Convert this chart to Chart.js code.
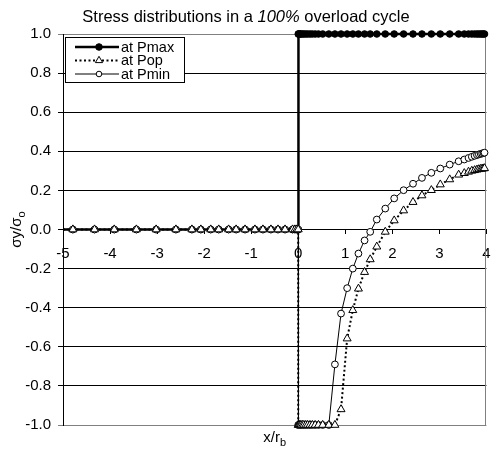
<!DOCTYPE html>
<html>
<head>
<meta charset="utf-8">
<script src="https://cdn.jsdelivr.net/npm/chart.js@4.4.0/dist/chart.umd.min.js"></script>
<style>
  html, body { margin: 0; padding: 0; background: #fff; }
</style>
</head>
<body>
<canvas id="stressChart" width="492" height="452"></canvas>
<script>
// ---- data ----
// node positions x/rb behind the 0 line and ahead of it
const xBehind = [-5, -4.79, -4.33, -3.91, -3.44, -3.02, -2.6, -2.26, -2.07, -1.86, -1.69, -1.48,
                 -1.32, -1.13, -0.92, -0.75, -0.58, -0.43, -0.28, -0.12, -0.07, -0.03, 0];
const xAhead  = [0, 0.01, 0.02, 0.04, 0.06, 0.09, 0.12, 0.16, 0.2, 0.25, 0.3, 0.36, 0.43, 0.52,
                 0.65, 0.78, 0.91, 1.04, 1.16, 1.28, 1.41, 1.53, 1.67, 1.85, 2.04, 2.24, 2.44, 2.63,
                 2.83, 3.02, 3.22, 3.41, 3.53, 3.62, 3.69, 3.75, 3.8, 3.84, 3.88, 3.91, 3.94, 3.96];

const pmaxBehind = [0, 0, 0, 0, 0, 0, 0, 0, 0, 0, 0, 0, 0, 0, 0, 0, 0, 0, 0, 0, 0, 0, 0];
const pmaxAhead  = [1, 1, 1, 1, 1, 1, 1, 1, 1, 1, 1, 1, 1, 1, 1, 1, 1, 1, 1, 1, 1, 1, 1, 1, 1, 1,
                    1, 1, 1, 1, 1, 1, 1, 1, 1, 1, 1, 1, 1, 1, 1, 1];

const popBehind = [0, 0, 0, 0, 0, 0, 0, 0, 0, 0, 0, 0, 0, 0, 0, 0, 0, 0, 0, 0, 0, 0, 0];
const popAhead  = [-1, -1, -1, -1, -1, -1, -1, -1, -1, -1, -1, -1, -1, -1, -1, -1,
                   -0.92, -0.558, -0.413, -0.303, -0.218, -0.153, -0.088, -0.012, 0.046, 0.097,
                   0.14, 0.174, 0.201, 0.23, 0.256, 0.28, 0.288, 0.295, 0.3, 0.303, 0.306, 0.308,
                   0.31, 0.311, 0.312, 0.313];

const pminBehind = [0, 0, 0, 0, 0, 0, 0, 0, 0, 0, 0, 0, 0, 0, 0, 0, 0, 0, 0, 0, 0, 0, 0];
const pminAhead  = [-1, -1, -1, -1, -1, -1, -1, -1, -1, -1, -1, -1, -1, -1, -1,
                    -0.69, -0.43, -0.30, -0.20, -0.123, -0.056, -0.012, 0.051, 0.107, 0.159, 0.201,
                    0.234, 0.264, 0.29, 0.312, 0.332, 0.349, 0.358, 0.366, 0.372, 0.377, 0.381,
                    0.384, 0.387, 0.389, 0.391, 0.393];

const seriesNames = ['at Pmax', 'at Pop', 'at Pmin'];
const xTickLabels = ['-5', '-4', '-3', '-2', '-1', '0', '1', '2', '3', '4'];
const yTickLabels = ['-1.0', '-0.8', '-0.6', '-0.4', '-0.2', '0.0', '0.2', '0.4', '0.6', '0.8', '1.0'];

const FONT = '"Liberation Sans", Arial, sans-serif';

function toPoints(xs, ys) {
  return xs.map((x, i) => ({ x: x, y: ys[i] }));
}

// first node sits on the axis, no marker there
const hideFirst = r => ctx => (ctx.dataIndex === 0 ? 0 : r);

// plot frame on the right (grey like the original)
const framePlugin = {
  id: 'frame',
  beforeDatasetsDraw(chart) {
    const { ctx, chartArea } = chart;
    ctx.save();
    ctx.strokeStyle = '#808080';
    ctx.lineWidth = 1;
    ctx.beginPath();
    const xr = Math.round(chartArea.right) - 0.5;
    ctx.moveTo(xr, chartArea.top);
    ctx.lineTo(xr, chartArea.bottom);
    ctx.stroke();
    ctx.restore();
  }
};

// title + axis titles (mixed italic / subscripts)
const textPlugin = {
  id: 'texts',
  afterDraw(chart) {
    const ctx = chart.ctx;
    const area = chart.chartArea;
    ctx.save();
    ctx.fillStyle = '#000';
    ctx.textBaseline = 'alphabetic';
    ctx.textAlign = 'left';

    // title
    const parts = [
      ['Stress distributions in a ', '16.5px ' + FONT],
      ['100%', 'italic 16.5px ' + FONT],
      [' overload cycle', '16.5px ' + FONT]
    ];
    let total = 0;
    parts.forEach(p => { ctx.font = p[1]; total += ctx.measureText(p[0]).width; });
    let x = chart.width / 2 - total / 2;
    parts.forEach(p => {
      ctx.font = p[1];
      ctx.fillText(p[0], x, 21.5);
      x += ctx.measureText(p[0]).width;
    });

    // x axis title  x/r_b
    ctx.font = '15px ' + FONT;
    const main = 'x/r';
    const wMain = ctx.measureText(main).width;
    ctx.font = '11px ' + FONT;
    const wSub = ctx.measureText('b').width;
    let xx = (area.left + area.right) / 2 - (wMain + wSub) / 2;
    ctx.font = '15px ' + FONT;
    ctx.fillText(main, xx, 442);
    ctx.font = '11px ' + FONT;
    ctx.fillText('b', xx + wMain, 446);

    // y axis title  σy/σ_o
    ctx.translate(21, (area.top + area.bottom) / 2);
    ctx.rotate(-Math.PI / 2);
    ctx.font = '15px ' + FONT;
    const yMain = 'σy/σ';
    const wy = ctx.measureText(yMain).width;
    ctx.font = '11px ' + FONT;
    const wo = ctx.measureText('o').width;
    const x0 = -(wy + wo) / 2;
    ctx.font = '15px ' + FONT;
    ctx.fillText(yMain, x0, 0);
    ctx.font = '11px ' + FONT;
    ctx.fillText('o', x0 + wy, 4);
    ctx.restore();
  }
};

// boxed legend in the upper left corner of the plot
const legendPlugin = {
  id: 'boxLegend',
  afterDraw(chart) {
    const ctx = chart.ctx;
    ctx.save();
    ctx.fillStyle = '#fff';
    ctx.fillRect(65.5, 37.5, 119, 45);
    ctx.strokeStyle = '#000';
    ctx.lineWidth = 1;
    ctx.strokeRect(65.5, 37.5, 119, 45);

    const rows = [47, 60.5, 74];
    chart.data.datasets.forEach((ds, i) => {
      const y = rows[i];
      ctx.save();
      ctx.strokeStyle = ds.borderColor;
      ctx.lineWidth = ds.borderWidth;
      ctx.setLineDash(ds.borderDash || []);
      ctx.beginPath();
      ctx.moveTo(75, y);
      ctx.lineTo(119, y);
      ctx.stroke();
      ctx.restore();

      ctx.save();
      ctx.fillStyle = ds.pointBackgroundColor;
      ctx.strokeStyle = ds.pointBorderColor;
      ctx.lineWidth = 1;
      ctx.beginPath();
      const r = ds.legendRadius;
      if (ds.pointStyle === 'triangle') {
        ctx.moveTo(99, y - r);
        ctx.lineTo(99 + r * 0.866, y + r / 2);
        ctx.lineTo(99 - r * 0.866, y + r / 2);
        ctx.closePath();
      } else {
        ctx.arc(99, y, r, 0, Math.PI * 2);
      }
      ctx.fill();
      ctx.stroke();
      ctx.restore();

      ctx.fillStyle = '#000';
      ctx.font = '14.5px ' + FONT;
      ctx.textBaseline = 'middle';
      ctx.textAlign = 'left';
      ctx.fillText(ds.label, 121, y + 0.5);
    });
    ctx.restore();
  }
};

const chart = new Chart(document.getElementById('stressChart'), {
  type: 'scatter',
  data: {
    datasets: [
      {
        label: seriesNames[0],
        data: toPoints(xBehind.concat(xAhead), pmaxBehind.concat(pmaxAhead)),
        showLine: true,
        borderColor: '#000',
        borderWidth: 2.5,
        pointStyle: 'circle',
        pointRadius: hideFirst(3.3),
        legendRadius: 3.3,
        pointBackgroundColor: '#000',
        pointBorderColor: '#000',
        pointBorderWidth: 1,
        order: 2
      },
      {
        label: seriesNames[1],
        data: toPoints(xBehind.concat(xAhead), popBehind.concat(popAhead)),
        showLine: true,
        borderColor: '#000',
        borderWidth: 2,
        borderDash: [2, 2.5],
        pointStyle: 'triangle',
        pointRadius: hideFirst(4.6),
        legendRadius: 4.2,
        pointBackgroundColor: '#fff',
        pointBorderColor: '#000',
        pointBorderWidth: 1,
        order: 0
      },
      {
        label: seriesNames[2],
        data: toPoints(xBehind.concat(xAhead), pminBehind.concat(pminAhead)),
        showLine: true,
        borderColor: '#000',
        borderWidth: 1,
        pointStyle: 'circle',
        pointRadius: hideFirst(3.4),
        legendRadius: 2.8,
        pointBackgroundColor: '#fff',
        pointBorderColor: '#000',
        pointBorderWidth: 1,
        order: 1
      }
    ]
  },
  options: {
    responsive: false,
    animation: false,
    events: [],
    layout: { padding: { left: 0, right: 1.5, top: 34, bottom: 27 } },
    elements: { line: { tension: 0 } },
    plugins: {
      legend: { display: false },
      title: { display: false },
      tooltip: { enabled: false }
    },
    datasets: { scatter: { clip: false } },
    scales: {
      x: {
        type: 'linear',
        min: -5,
        max: 4,
        position: { y: 0 },
        ticks: {
          stepSize: 1,
          autoSkip: false,
          maxRotation: 0,
          padding: 11,
          color: '#000',
          font: { family: FONT, size: 15 },
          callback: (v, i) => xTickLabels[i]
        },
        grid: { drawOnChartArea: false, drawTicks: true, tickLength: 4, color: '#000' },
        border: { display: true, color: '#000', width: 1 },
        afterFit: s => { s.paddingLeft = 0; s.paddingRight = 0; }
      },
      y: {
        type: 'linear',
        min: -1,
        max: 1,
        position: 'left',
        ticks: {
          stepSize: 0.2,
          padding: 7,
          color: '#000',
          font: { family: FONT, size: 15 },
          callback: (v, i) => yTickLabels[i]
        },
        grid: {
          tickLength: 5,
          color: c => (Math.abs(Math.abs(c.tick.value) - 1) < 1e-6 ? '#808080' : '#000')
        },
        border: { color: '#000', width: 1 },
        afterFit: s => { s.width = 63; }
      }
    }
  },
  plugins: [framePlugin, textPlugin, legendPlugin]
});
</script>
</body>
</html>
